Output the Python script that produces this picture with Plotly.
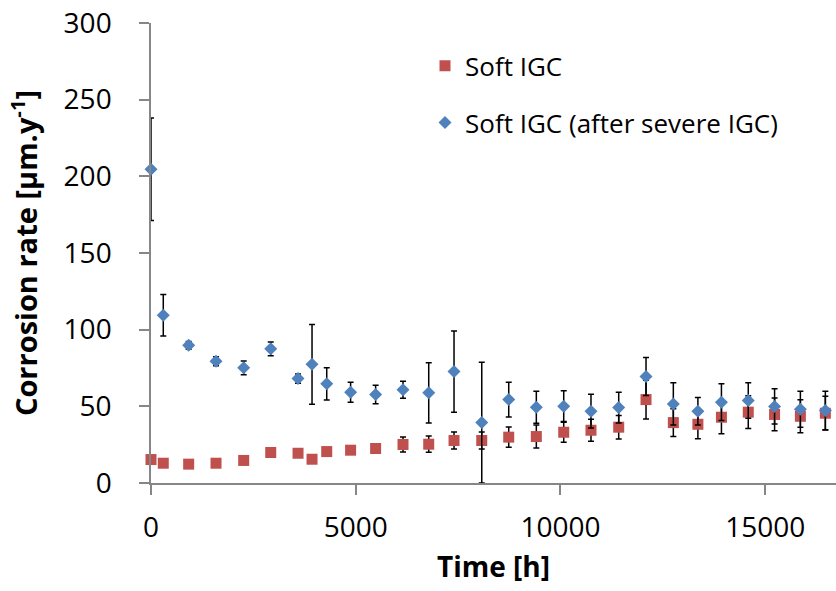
import plotly.graph_objects as go

time_h = [0, 300, 920, 1588, 2264, 2924, 3591, 3933, 4292, 4875, 5486, 6155, 6783, 7401,
          8078, 8737, 9411, 10080, 10746, 11423, 12090, 12757, 13357, 13932, 14587, 15230, 15860, 16470]

soft_igc = [15.3, 12.9, 12.3, 12.9, 14.7, 19.9, 19.4, 15.5, 20.5, 21.4, 22.5, 25.1, 25.3, 27.7,
            27.7, 29.9, 30.3, 33.1, 34.4, 36.4, 54.4, 39.4, 38.3, 42.9, 46.2, 44.7, 43.5, 45.5]
soft_igc_err = [0.5, 0.5, 0.5, 0.5, 0.5, 0.8, 0.8, 0.8, 1.0, 1.4, 1.5, 4.9, 5.3, 5.5,
                5.5, 6.6, 7.5, 6.6, 7.2, 7.7, 12.6, 9.0, 9.5, 10.8, 10.7, 10.7, 10.8, 11.0]

soft_after = [204.6, 109.4, 89.8, 79.4, 75.1, 87.5, 68.1, 77.4, 64.7, 59.2, 57.7, 60.8, 58.8, 72.7,
              39.4, 54.4, 49.4, 50.1, 46.8, 49.2, 69.4, 51.6, 46.8, 52.7, 53.8, 49.9, 48.1, 47.3]
soft_after_err = [33.4, 13.6, 2.5, 3.0, 4.5, 4.5, 3.0, 26.0, 10.5, 6.5, 6.0, 5.6, 19.7, 26.5,
                  39.4, 11.3, 10.5, 10.0, 11.0, 10.0, 12.4, 13.7, 9.0, 12.0, 11.5, 11.5, 11.7, 12.5]

x_ticks = [0, 5000, 10000, 15000]
y_ticks = [0, 50, 100, 150, 200, 250, 300]

FONT = "Open Sans"
AXIS_GREY = "#868686"

fig = go.Figure()
fig.add_trace(go.Scatter(
    x=time_h, y=soft_igc, mode="markers", name="Soft IGC", legendgroup="a",
    marker=dict(symbol="square", size=11, color="#C0504D"), cliponaxis=False,
    error_y=dict(type="data", array=soft_igc_err, visible=True, color="black",
                 thickness=1.5, width=3),
))
fig.add_trace(go.Scatter(
    x=time_h, y=soft_after, mode="markers", name="Soft IGC (after severe IGC)", legendgroup="b",
    marker=dict(symbol="diamond", size=10, color="#4F81BD"), cliponaxis=False,
    error_y=dict(type="data", array=soft_after_err, visible=True, color="black",
                 thickness=1.5, width=3),
))

fig.update_layout(
    width=836, height=591,
    margin=dict(l=151, r=0, t=23, b=108),
    paper_bgcolor="white", plot_bgcolor="white",
    font=dict(family=FONT, size=28, color="black"),
    showlegend=True,
    legend=dict(x=0.40, y=0.958, xanchor="left", yanchor="top",
                font=dict(family=FONT, size=26, color="black"),
                tracegroupgap=20, bgcolor="rgba(0,0,0,0)"),
    xaxis=dict(
        range=[0, 16730], tickvals=x_ticks, ticktext=[str(v) for v in x_ticks],
        showgrid=False, zeroline=False, showline=True, linecolor=AXIS_GREY, linewidth=1.5,
        ticks="outside", ticklen=10, tickcolor=AXIS_GREY, tickwidth=1.5,
        ticklabelstandoff=9,
        tickfont=dict(family=FONT, size=28),
        title=dict(text="<b>Time [h]</b>", font=dict(family=FONT, size=28), standoff=13),
    ),
    yaxis=dict(
        range=[0, 300], tickvals=y_ticks, ticktext=[str(v) for v in y_ticks],
        showgrid=False, zeroline=False, showline=True, linecolor=AXIS_GREY, linewidth=1.5,
        ticks="outside", ticklen=10, tickcolor=AXIS_GREY, tickwidth=1.5,
        ticklabelstandoff=22,
        tickfont=dict(family=FONT, size=28),
        title=dict(text="<b>Corrosion rate [µm.y<sup>-1</sup>]</b>", font=dict(family=FONT, size=29),
                   standoff=17),
    ),
)

fig.write_html("out.html")
